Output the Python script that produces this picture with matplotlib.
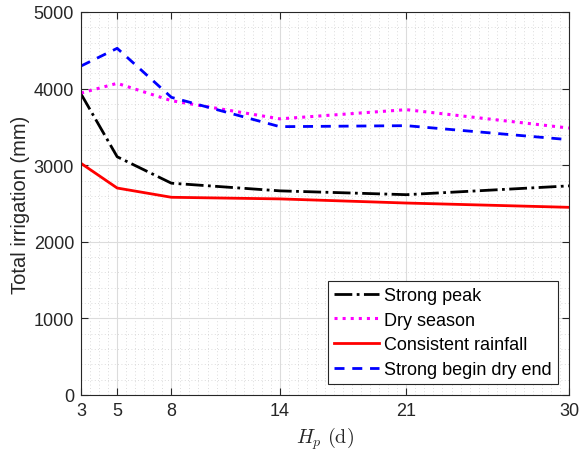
import matplotlib
matplotlib.use('Agg')
import matplotlib.pyplot as plt
from matplotlib.ticker import MultipleLocator

# Horizon de prédiction (jours)
hp = [3, 5, 8, 14, 21, 30]

# Irrigation totale (mm) par scénario
strong_peak = [3930, 3110, 2765, 2665, 2615, 2730]
dry_season = [3942, 4069, 3842, 3605, 3725, 3485]
consistent_rainfall = [3024, 2702, 2581, 2560, 2506, 2450]
strong_begin_dry_end = [4295, 4526, 3886, 3503, 3516, 3333]

plt.rcParams['font.family'] = ['Liberation Sans', 'DejaVu Sans']
plt.rcParams['mathtext.fontset'] = 'cm'

fig = plt.figure(figsize=(5.8, 4.56), dpi=100)
ax = fig.add_axes([0.1397, 0.1316, 0.8413, 0.8399])

ax.plot(hp, strong_peak, color='black', linestyle='-.', lw=2, label='Strong peak')
ax.plot(hp, dry_season, color='#ff00ff', linestyle=':', lw=2.2, label='Dry season')
ax.plot(hp, consistent_rainfall, color='red', linestyle='-', lw=2, label='Consistent rainfall')
ax.plot(hp, strong_begin_dry_end, color='blue', linestyle=(0, (3.6, 2.8)), lw=2, label='Strong begin dry end')

ax.set_xlim(3, 30)
ax.set_ylim(0, 5000)
ax.set_xticks(hp)
ax.set_yticks(range(0, 5001, 1000))
ax.xaxis.set_minor_locator(MultipleLocator(0.5))
ax.yaxis.set_minor_locator(MultipleLocator(200))

ax.grid(True, which='major', color='#dcdcdc', lw=0.8)
ax.grid(True, which='minor', color='#d0d0d0', lw=0.6, linestyle=(0, (1, 3)))
ax.set_axisbelow(True)

ax.tick_params(which='both', direction='in', top=True, right=True, labelsize=13, colors='#262626')
ax.tick_params(which='minor', length=0)
ax.tick_params(which='major', length=5, pad=5)
for s in ax.spines.values():
    s.set_color('#262626')
    s.set_linewidth(0.8)

ax.set_xlabel(r'$H_p\ \mathrm{(d)}$', fontsize=14.5, color='#262626', labelpad=4)
ax.set_ylabel('Total irrigation (mm)', fontsize=14.5, color='#262626', labelpad=3)

leg = ax.legend(loc='lower right', fontsize=13, fancybox=False, framealpha=1,
                edgecolor='#262626', handlelength=2.5, handletextpad=0.28,
                borderpad=0.35, labelspacing=0.42, borderaxespad=0.6)
leg.get_frame().set_linewidth(0.8)

plt.savefig('out.png', dpi=100)
